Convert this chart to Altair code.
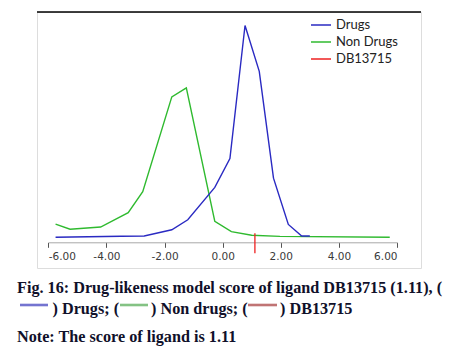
import altair as alt
import pandas as pd

# ---- data ----
series_names = ["Drugs", "Non Drugs", "DB13715"]
series_colors = ["#2a2ac2", "#2fba2f", "#ee2020"]

drug_x = [-5.75, -3.5, -2.7, -1.75, -1.2, -0.27, 0.25, 0.77, 1.26, 1.75, 2.26, 2.72, 3.0]
drug_y = [0.0, 0.13, 0.18, 1.0, 2.33, 6.64, 10.47, 28.2, 22.1, 7.87, 1.71, 0.17, 0.17]

non_x = [-5.75, -5.25, -4.2, -3.25, -2.75, -1.75, -1.25, -0.27, 0.3, 1.0, 1.97, 5.75]
non_y = [1.75, 1.08, 1.37, 3.28, 6.08, 18.7, 19.9, 2.13, 0.75, 0.27, 0.12, 0.0]

ligand_score = [1.11]
marker_top = [0.53]
marker_bottom = [-2.13]

tick_values = [-6, -4, -2, 0, 2, 4, 6]

caption_line1 = "Fig. 16: Drug-likeness model score of ligand DB13715 (1.11), ("
caption_parts = [") Drugs; (", ") Non drugs; (", ") DB13715"]
caption_note = "Note: The score of ligand is 1.11"
caption_swatch_colors = ["#7474d0", "#84c284", "#c07474"]

# ---- tables ----
df_drug = pd.DataFrame({"score": drug_x, "freq": drug_y, "series": "Drugs"})
df_non = pd.DataFrame({"score": non_x, "freq": non_y, "series": "Non Drugs"})
df_lig = pd.DataFrame({"score": ligand_score, "top": marker_top,
                       "bottom": marker_bottom, "series": ["DB13715"]})

xs = alt.Scale(domain=[-6, 6], range=[11.3, 360], nice=False, zero=False)
ys = alt.Scale(domain=[-4.09, 30], nice=False, zero=False)

x_axis = alt.Axis(
    values=tick_values, title=None, orient="bottom", offset=-25.7,
    grid=False, domainColor="#a8a8a8", tickColor="#555", tickSize=5,
    labelFont="DejaVu Sans", labelFontSize=10.5, labelColor="#3a3a3a",
    labelPadding=4,
    labelExpr="(datum.value < 0 ? '-' : '') + format(abs(datum.value), '.2f')",
)

color = alt.Color(
    "series:N",
    scale=alt.Scale(domain=series_names, range=series_colors),
    legend=alt.Legend(
        title=None, orient="none", legendX=273, legendY=4.5,
        symbolType="stroke", symbolSize=400, symbolStrokeWidth=1.5,
        labelFont="Lato", labelFontSize=13, labelColor="#222",
        padding=0, clipHeight=17, rowPadding=0, labelOffset=4,
    ),
)

non_line = alt.Chart(df_non).mark_line(strokeWidth=1.4).encode(
    x=alt.X("score:Q", scale=xs, axis=x_axis),
    y=alt.Y("freq:Q", scale=ys, axis=None),
    color=color,
)
drug_line = alt.Chart(df_drug).mark_line(strokeWidth=1.4).encode(
    x=alt.X("score:Q", scale=xs, axis=x_axis),
    y=alt.Y("freq:Q", scale=ys, axis=None),
    color=color,
)
lig_rule = alt.Chart(df_lig).mark_rule(strokeWidth=1.3).encode(
    x=alt.X("score:Q", scale=xs, axis=x_axis),
    y=alt.Y("top:Q", scale=ys, axis=None),
    y2="bottom:Q",
    color=color,
)

dummy = alt.Data(values=[{}])
top_border = alt.Chart(dummy).mark_rule(color="black", strokeWidth=1.5).encode(
    x=alt.value(0), x2=alt.value(384), y=alt.value(0)
)

font = dict(font="Liberation Serif", fontWeight="bold", fontSize=16.2,
            color="#10102a", align="left", baseline="alphabetic")

cap1 = alt.Chart(dummy).mark_text(**font).encode(
    x=alt.value(-20), y=alt.value(281), text=alt.value(caption_line1))
cap2a = alt.Chart(dummy).mark_text(**font).encode(
    x=alt.value(15.5), y=alt.value(302), text=alt.value(caption_parts[0]))
cap2b = alt.Chart(dummy).mark_text(**font).encode(
    x=alt.value(114), y=alt.value(302), text=alt.value(caption_parts[1]))
cap2c = alt.Chart(dummy).mark_text(**font).encode(
    x=alt.value(243), y=alt.value(302), text=alt.value(caption_parts[2]))
note = alt.Chart(dummy).mark_text(**font).encode(
    x=alt.value(-20), y=alt.value(330), text=alt.value(caption_note))

sw1 = alt.Chart(dummy).mark_rule(strokeWidth=2.6, color=caption_swatch_colors[0]).encode(
    x=alt.value(-17), x2=alt.value(11), y=alt.value(293))
sw2 = alt.Chart(dummy).mark_rule(strokeWidth=2.6, color=caption_swatch_colors[1]).encode(
    x=alt.value(83), x2=alt.value(111), y=alt.value(293))
sw3 = alt.Chart(dummy).mark_rule(strokeWidth=2.6, color=caption_swatch_colors[2]).encode(
    x=alt.value(211), x2=alt.value(240), y=alt.value(293))

chart = alt.layer(
    non_line, drug_line, lig_rule, top_border,
    cap1, cap2a, cap2b, cap2c, note, sw1, sw2, sw3,
).properties(
    width=384, height=256,
    autosize=alt.AutoSizeParams(type="none"),
    padding={"left": 37, "top": 12, "right": 35, "bottom": 84},
).configure_view(
    stroke="#9a9a9a", strokeWidth=1
).configure(background="white")

chart.save("out.html", embed_options={"renderer": "svg", "actions": False})
